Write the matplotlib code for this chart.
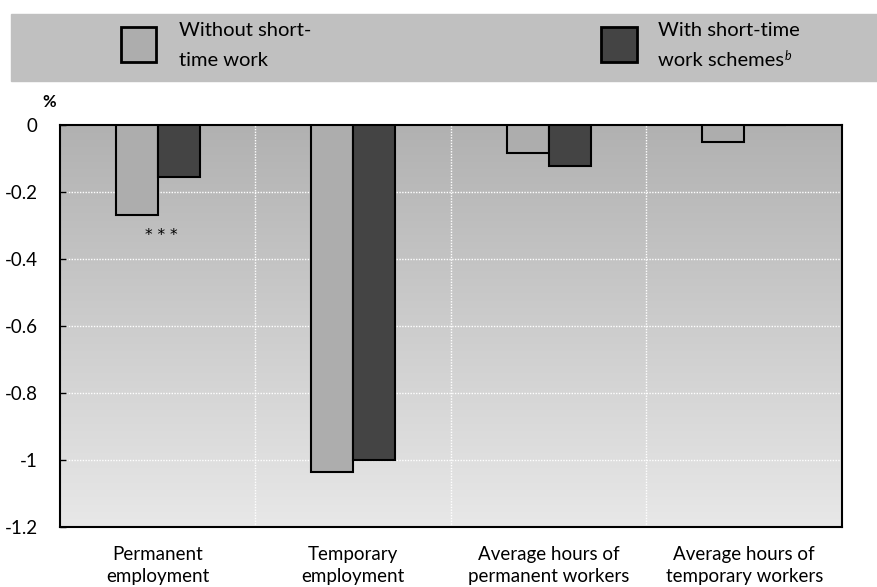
import matplotlib.pyplot as plt
import numpy as np
from matplotlib.patches import Rectangle
from matplotlib.colors import LinearSegmentedColormap

categories = ['Permanent\nemployment', 'Temporary\nemployment',
              'Average hours of\npermanent workers', 'Average hours of\ntemporary workers']
without_stw = [-0.27, -1.035, -0.083, -0.05]
with_stw = [-0.154, -1.0, -0.122, 0.0]
y_ticks = [0, -0.2, -0.4, -0.6, -0.8, -1, -1.2]
y_tick_labels = ['0', '-0.2', '-0.4', '-0.6', '-0.8', '-1', '-1.2']

plt.rcParams['font.family'] = ['Lato', 'DejaVu Sans']

fig = plt.figure(figsize=(8.78, 5.87), dpi=100)
ax = fig.add_axes([60 / 878, 1 - 527 / 587, 782 / 878, 402 / 587])

# gradient background, darker at top
grad = np.linspace(0, 1, 256).reshape(-1, 1)
ax.imshow(grad, cmap=LinearSegmentedColormap.from_list('bg', ['#b1b1b1', '#e8e8e8']),
          aspect='auto', extent=[-0.5, 3.5, -1.2, 0], zorder=0, origin='upper')

x = np.arange(len(categories))
w = 0.215
ax.bar(x - w / 2, without_stw, w, color='#adadad', edgecolor='black', linewidth=1.5, zorder=3)
ax.bar(x + w / 2, with_stw, w, color='#444444', edgecolor='black', linewidth=1.5, zorder=3)

ax.text(0.02, -0.33, '* * *', ha='center', va='center', fontsize=11,
        family='DejaVu Sans', zorder=4)

ax.set_xlim(-0.5, 3.5)
ax.set_ylim(-1.2, 0)
ax.set_yticks(y_ticks)
ax.set_yticklabels(y_tick_labels, fontsize=13.5)
ax.set_xticks(x)
ax.set_xticklabels(categories, fontsize=13.5, linespacing=1.35)
ax.tick_params(axis='x', length=0, pad=14)
ax.tick_params(axis='y', length=4, width=1, direction='in', pad=16)

for yv in y_ticks[1:-1]:
    ax.axhline(yv, color='white', linestyle=(0, (1, 1)), linewidth=1, zorder=1)
for xv in [0.5, 1.5, 2.5]:
    ax.axvline(xv, color='white', linestyle=(0, (1, 1)), linewidth=1, zorder=1)

for s in ax.spines.values():
    s.set_linewidth(1.5)

fig.text(49 / 878, 1 - 102 / 587, '%', fontsize=12, fontweight='bold', ha='center', va='center')

# legend band
fig.patches.append(Rectangle((11 / 878, 1 - 81 / 587), 867 / 878, 67 / 587,
                             transform=fig.transFigure, color='#c0c0c0', zorder=0))
fig.patches.append(Rectangle((121 / 878, 1 - 62 / 587), 35 / 878, 35 / 587,
                             transform=fig.transFigure, facecolor='#adadad',
                             edgecolor='black', linewidth=2, zorder=1))
fig.patches.append(Rectangle((601 / 878, 1 - 62 / 587), 36 / 878, 35 / 587,
                             transform=fig.transFigure, facecolor='#444444',
                             edgecolor='black', linewidth=2, zorder=1))
fig.text(179 / 878, 1 - 31 / 587, 'Without short-', fontsize=14.5, va='center', ha='left')
fig.text(179 / 878, 1 - 61 / 587, 'time work', fontsize=14.5, va='center', ha='left')
fig.text(658 / 878, 1 - 31 / 587, 'With short-time', fontsize=14.5, va='center', ha='left')
t = fig.text(658 / 878, 1 - 61 / 587, 'work schemes', fontsize=14.5, va='center', ha='left')

# superscript b right after the legend text
fig.canvas.draw()
bb = t.get_window_extent()
fig.text(bb.x1 / fig.bbox.width + 1 / 878, (bb.y1 - 3) / fig.bbox.height, 'b',
         fontsize=9, style='italic', va='center', ha='left')

fig.savefig('out.png', dpi=100)
